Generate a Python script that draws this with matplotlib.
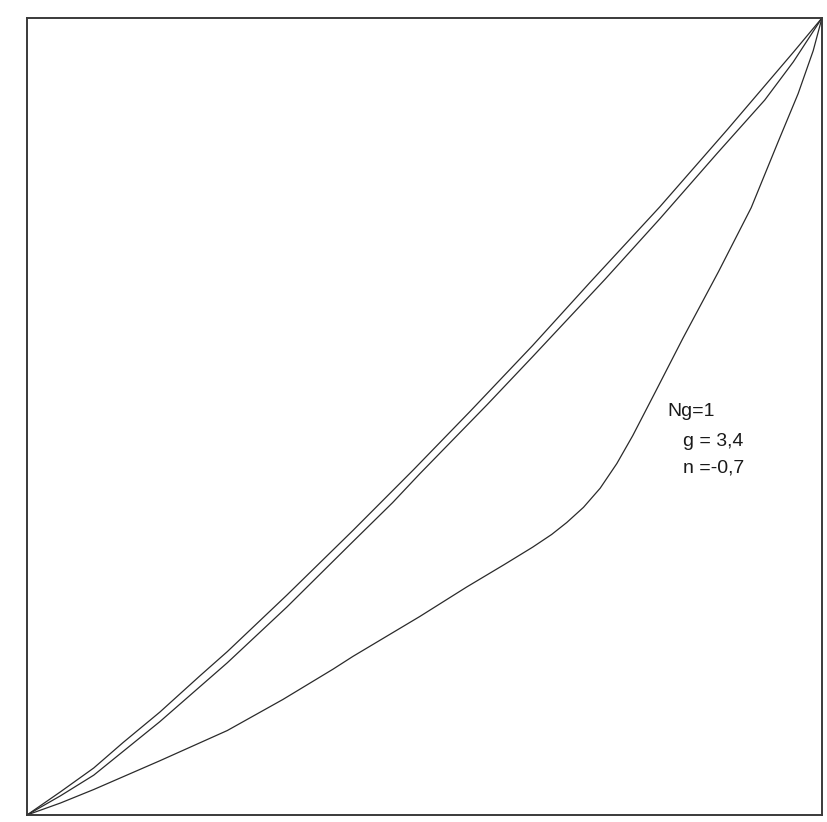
import matplotlib
matplotlib.use("Agg")
import matplotlib.pyplot as plt

# curves, both axes normalised to 0..1
upper_x = [0.0, 0.042, 0.084, 0.121, 0.167, 0.218, 0.252, 0.327, 0.410, 0.444,
           0.486, 0.557, 0.636, 0.708, 0.796, 0.881, 0.964, 1.0]
upper_y = [0.0, 0.029, 0.059, 0.091, 0.129, 0.175, 0.205, 0.276, 0.357, 0.391,
           0.433, 0.506, 0.589, 0.668, 0.763, 0.860, 0.957, 1.0]

middle_x = [0.0, 0.042, 0.084, 0.167, 0.252, 0.327, 0.410, 0.460, 0.494, 0.579,
            0.636, 0.727, 0.796, 0.868, 0.928, 0.964, 1.0]
middle_y = [0.0, 0.024, 0.050, 0.117, 0.191, 0.261, 0.343, 0.392, 0.428, 0.515,
            0.575, 0.672, 0.748, 0.830, 0.897, 0.945, 1.0]

lower_x = [0.0, 0.042, 0.084, 0.167, 0.252, 0.322, 0.385, 0.410, 0.494, 0.553,
           0.600, 0.636, 0.660, 0.679, 0.700, 0.721, 0.742, 0.762, 0.790, 0.825,
           0.870, 0.911, 0.945, 0.970, 0.989, 1.0]
lower_y = [0.0, 0.015, 0.032, 0.068, 0.106, 0.145, 0.183, 0.199, 0.249, 0.286,
           0.314, 0.336, 0.352, 0.367, 0.386, 0.410, 0.441, 0.476, 0.530, 0.598,
           0.682, 0.762, 0.845, 0.905, 0.959, 1.0]

labels = ["Ng=1", "g = 3,4", "n =-0,7"]

plt.rcParams['font.family'] = ['Liberation Sans', 'DejaVu Sans']

fig = plt.figure(figsize=(8.27, 8.22), dpi=100)
ax = fig.add_axes([0.0326, 0.0085, 0.9613, 0.9696])

for xs, ys in [(upper_x, upper_y), (middle_x, middle_y), (lower_x, lower_y)]:
    ax.plot(xs, ys, color='#2a2a2a', lw=0.9, solid_joinstyle='round')

ax.set_xlim(0, 1)
ax.set_ylim(0, 1)
ax.set_xticks([])
ax.set_yticks([])
for sp in ax.spines.values():
    sp.set_color('#3a3a3a')
    sp.set_linewidth(1.4)

# parameter block on the right
ax.text(0.805, 0.506, labels[0], transform=ax.transAxes, fontsize=14,
        color='#1a1a1a', va='center', ha='left')
ax.text(0.825, 0.469, labels[1], transform=ax.transAxes, fontsize=14,
        color='#1a1a1a', va='center', ha='left')
ax.text(0.825, 0.435, labels[2], transform=ax.transAxes, fontsize=14,
        color='#1a1a1a', va='center', ha='left')

fig.savefig("out.png", dpi=100)
